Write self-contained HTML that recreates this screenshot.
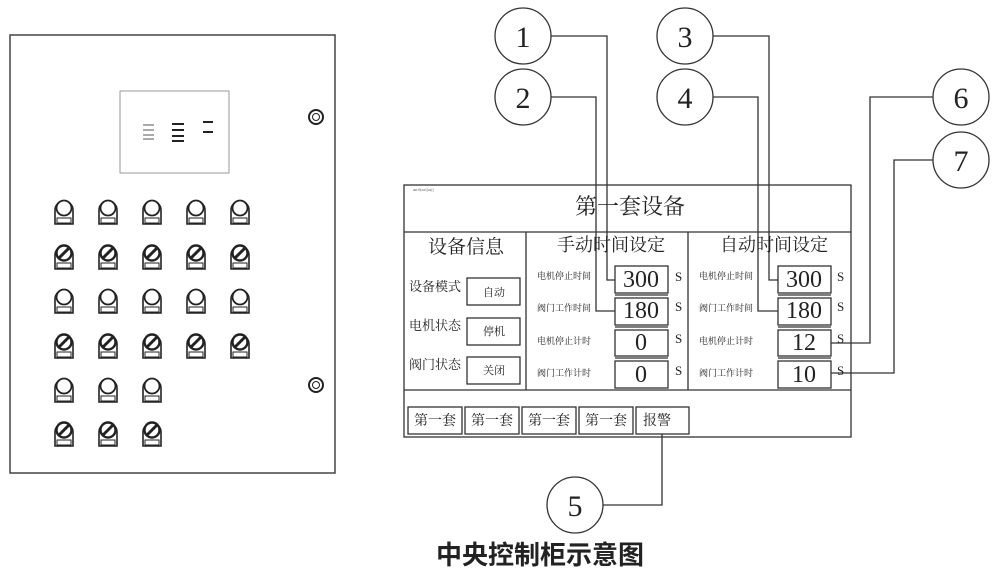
<!DOCTYPE html><html><head><meta charset="utf-8"><style>body{margin:0;background:#fff}svg{display:block}text{font-family:"Liberation Serif","Noto Serif CJK SC",serif;fill:#222}</style></head><body>
<svg width="1000" height="580" viewBox="0 0 1000 580" xmlns="http://www.w3.org/2000/svg">
<defs>
<g id="k1"><path d="M-9,18 V4 A9,9 0 0 1 9,4 V18 Z" fill="#fff" stroke="#222" stroke-width="1.6"/><circle cx="0" cy="2" r="7.5" fill="#fff" stroke="#222" stroke-width="1.8"/><rect x="-7" y="12" width="14" height="5" fill="#fff" stroke="#222" stroke-width="1"/></g>
<g id="k2"><path d="M-9,18 V4 A9,9 0 0 1 9,4 V18 Z" fill="#fff" stroke="#222" stroke-width="1.6"/><circle cx="0" cy="2" r="7.5" fill="#fff" stroke="#222" stroke-width="2.4"/><line x1="-5" y1="7" x2="5" y2="-3" stroke="#222" stroke-width="3"/><rect x="-7" y="12" width="14" height="5" fill="#fff" stroke="#222" stroke-width="1"/></g>
</defs>
<g fill="none" stroke="#444">
<rect x="10" y="35" width="325" height="438" stroke-width="1.5"/>
<rect x="120" y="91" width="109" height="82" stroke="#999"/>
</g>
<g stroke="#555" stroke-width="1"><line x1="143" y1="125" x2="154" y2="125"/><line x1="143" y1="130" x2="154" y2="130"/><line x1="143" y1="135" x2="154" y2="135"/><line x1="143" y1="139" x2="154" y2="139"/></g>
<g stroke="#222" stroke-width="2"><line x1="172" y1="124" x2="184" y2="124"/><line x1="172" y1="130" x2="184" y2="130"/><line x1="172" y1="136" x2="184" y2="136"/><line x1="172" y1="141" x2="184" y2="141"/><line x1="203" y1="122" x2="213" y2="122"/><line x1="203" y1="132" x2="213" y2="132"/></g>
<g fill="#fff" stroke="#222"><circle cx="316" cy="117" r="7" stroke-width="2"/><circle cx="316" cy="117" r="3.5"/><circle cx="316" cy="385" r="7" stroke-width="2"/><circle cx="316" cy="385" r="3.5"/></g>
<use href="#k1" x="64" y="206"/><use href="#k1" x="108" y="206"/><use href="#k1" x="152" y="206"/><use href="#k1" x="196" y="206"/><use href="#k1" x="240" y="206"/>
<use href="#k2" x="64" y="251"/><use href="#k2" x="108" y="251"/><use href="#k2" x="152" y="251"/><use href="#k2" x="196" y="251"/><use href="#k2" x="240" y="251"/>
<use href="#k1" x="64" y="295"/><use href="#k1" x="108" y="295"/><use href="#k1" x="152" y="295"/><use href="#k1" x="196" y="295"/><use href="#k1" x="240" y="295"/>
<use href="#k2" x="64" y="340"/><use href="#k2" x="108" y="340"/><use href="#k2" x="152" y="340"/><use href="#k2" x="196" y="340"/><use href="#k2" x="240" y="340"/>
<use href="#k1" x="64" y="384"/><use href="#k1" x="108" y="384"/><use href="#k1" x="152" y="384"/>
<use href="#k2" x="64" y="428"/><use href="#k2" x="108" y="428"/><use href="#k2" x="152" y="428"/>

<g fill="none" stroke="#333" stroke-width="1.3">
<rect x="404" y="185" width="447" height="252"/>
<line x1="404" y1="232" x2="851" y2="232"/>
<line x1="404" y1="390" x2="851" y2="390"/>
<line x1="526" y1="232" x2="526" y2="390"/>
<line x1="688" y1="232" x2="688" y2="390"/>
<rect x="467" y="278" width="53" height="27"/><rect x="467" y="318" width="53" height="27"/><rect x="467" y="357" width="53" height="27"/>
<rect x="408" y="407" width="54" height="27"/><rect x="465" y="407" width="54" height="27"/><rect x="522" y="407" width="54" height="27"/><rect x="579" y="407" width="54" height="27"/><rect x="636" y="407" width="53" height="27"/>
<g id="vb"><rect x="615" y="266" width="53" height="27"/><line x1="615" y1="295" x2="668" y2="295"/><rect x="615" y="298" width="53" height="27"/><line x1="615" y1="327" x2="668" y2="327"/><rect x="615" y="330" width="53" height="26"/><line x1="615" y1="358" x2="668" y2="358"/><rect x="615" y="361" width="53" height="27"/></g>
<use href="#vb" x="163"/>
<ellipse cx="523" cy="36" rx="28" ry="28"/><ellipse cx="523" cy="97" rx="28" ry="28"/>
<ellipse cx="685" cy="36" rx="28" ry="28"/><ellipse cx="685" cy="97" rx="28" ry="28"/>
<ellipse cx="961" cy="97" rx="28" ry="28"/><ellipse cx="961" cy="160" rx="28" ry="28"/>
<ellipse cx="575" cy="505" rx="28" ry="28"/>
<polyline points="551,36 607,36 607,280 615,280"/>
<polyline points="551,97 596,97 596,311 615,311"/>
<polyline points="713,36 769,36 769,280 778,280"/>
<polyline points="713,97 758,97 758,311 778,311"/>
<polyline points="933,97 870,97 870,343 831,343"/>
<polyline points="933,160 894,160 894,373 831,373"/>
<polyline points="603,505 662,505 662,434"/>
</g>
<g font-size="30" text-anchor="middle"><text x="523" y="47">1</text><text x="523" y="108">2</text><text x="685" y="47">3</text><text x="685" y="108">4</text><text x="961" y="108">6</text><text x="961" y="171">7</text><text x="575" y="516">5</text></g>
<text x="630" y="214" font-size="22" text-anchor="middle">第一套设备</text>
<text x="413" y="191" font-size="3">2017年10月24日</text>
<text x="466" y="253" font-size="19" text-anchor="middle">设备信息</text>
<text x="611" y="251" font-size="18" text-anchor="middle">手动时间设定</text>
<text x="774" y="251" font-size="18" text-anchor="middle">自动时间设定</text>
<g font-size="13"><text x="409" y="291">设备模式</text><text x="409" y="330">电机状态</text><text x="409" y="369">阀门状态</text></g>
<g font-size="11" text-anchor="middle"><text x="494" y="296">自动</text><text x="494" y="335">停机</text><text x="494" y="374">关闭</text></g>
<g font-size="9"><text x="537" y="279">电机停止时间</text><text x="537" y="311">阀门工作时间</text><text x="537" y="344">电机停止计时</text><text x="537" y="376">阀门工作计时</text>
<text x="699" y="279">电机停止时间</text><text x="699" y="311">阀门工作时间</text><text x="699" y="344">电机停止计时</text><text x="699" y="376">阀门工作计时</text></g>
<g font-size="24" text-anchor="middle"><text x="641" y="287">300</text><text x="641" y="318">180</text><text x="641" y="350">0</text><text x="641" y="382">0</text><text x="804" y="287">300</text><text x="804" y="318">180</text><text x="804" y="350">12</text><text x="804" y="382">10</text></g>
<g font-size="13"><text x="675" y="281">S</text><text x="675" y="311">S</text><text x="675" y="343">S</text><text x="675" y="375">S</text><text x="837" y="281">S</text><text x="837" y="311">S</text><text x="837" y="343">S</text><text x="837" y="375">S</text></g>
<g font-size="14" text-anchor="middle"><text x="435" y="425">第一套</text><text x="492" y="425">第一套</text><text x="549" y="425">第一套</text><text x="606" y="425">第一套</text><text x="657" y="425">报警</text></g>
<text x="540" y="564" font-size="26" font-weight="bold" text-anchor="middle" style="font-family:'Liberation Sans','Noto Sans CJK SC',sans-serif">中央控制柜示意图</text>
</svg></body></html>
